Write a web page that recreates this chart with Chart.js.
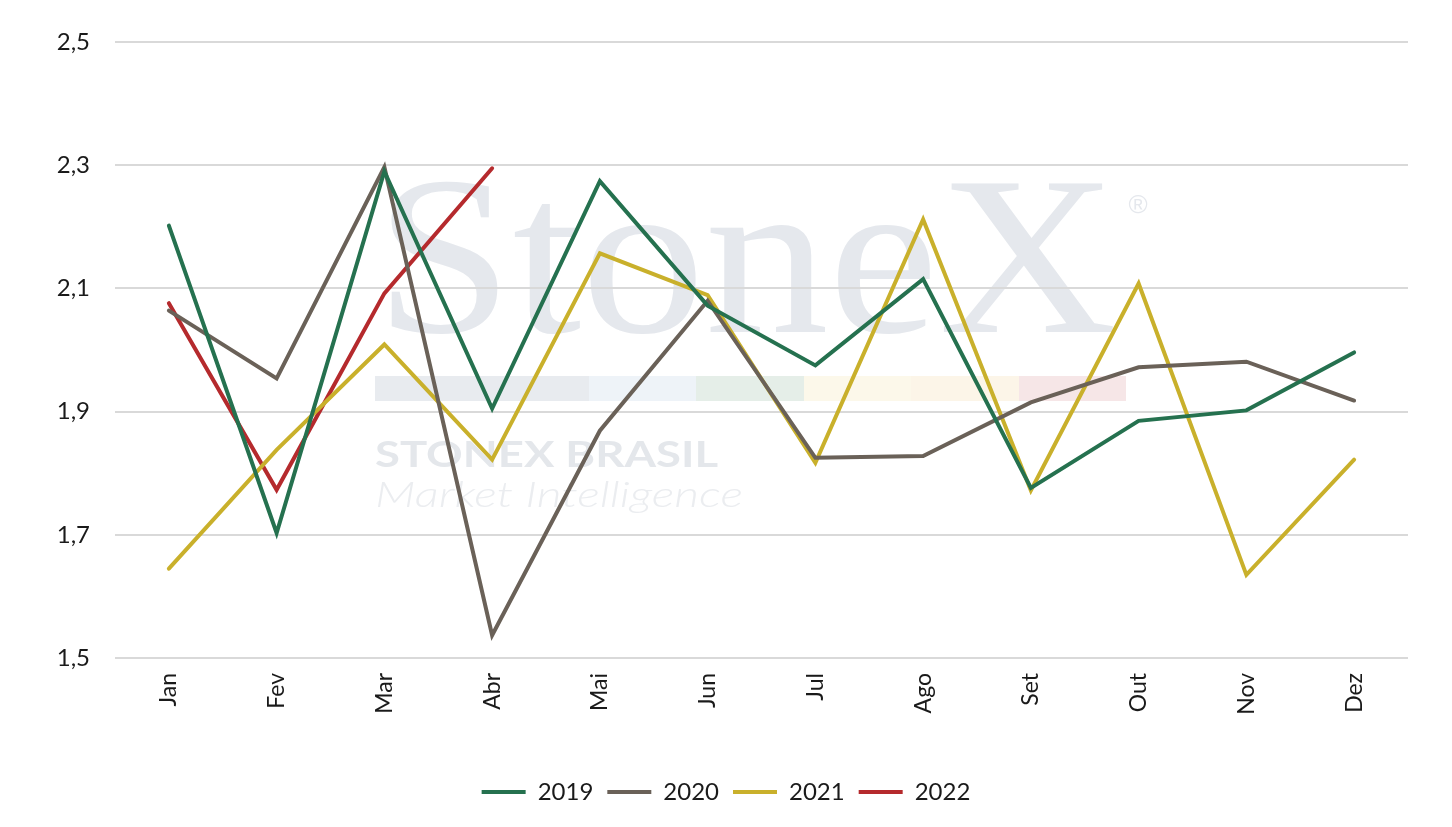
<!DOCTYPE html>
<html>
<head>
<meta charset="utf-8">
<script src="https://cdn.jsdelivr.net/npm/chart.js@4.4.1/dist/chart.umd.min.js"></script>
<style>
  html, body { margin: 0; padding: 0; background: #ffffff; }
  #wrap { width: 1452px; height: 827px; }
</style>
</head>
<body>
<div id="wrap"><canvas id="c" width="1452" height="827"></canvas></div>
<script>
const months = ['Jan', 'Fev', 'Mar', 'Abr', 'Mai', 'Jun', 'Jul', 'Ago', 'Set', 'Out', 'Nov', 'Dez'];
const series2019 = [2.202, 1.703, 2.290, 1.905, 2.274, 2.072, 1.975, 2.115, 1.776, 1.885, 1.902, 1.996];
const series2020 = [2.064, 1.954, 2.297, 1.537, 1.869, 2.080, 1.825, 1.828, 1.915, 1.972, 1.981, 1.918];
const series2021 = [1.645, 1.838, 2.009, 1.822, 2.157, 2.089, 1.817, 2.212, 1.772, 2.108, 1.635, 1.822];
const series2022 = [2.076, 1.773, 2.092, 2.295];
const yTicks = [1.5, 1.7, 1.9, 2.1, 2.3, 2.5];

const FONT = 'Lato';

const watermark = {
  id: 'watermark',
  beforeDraw(chart) {
    const ctx = chart.ctx;
    ctx.save();
    ctx.fillStyle = '#e5e8ed';
    ctx.font = '226px "Liberation Serif"';
    ctx.textBaseline = 'alphabetic';
    ctx.textAlign = 'left';
    const w = ctx.measureText('StoneX').width;
    ctx.translate(375, 332);
    ctx.scale(742 / w, 1);
    ctx.fillText('StoneX', 0, 0);
    ctx.restore();
    ctx.save();
    ctx.fillStyle = '#e5e8ed';
    ctx.font = '26px "Liberation Sans"';
    ctx.textAlign = 'center';
    ctx.textBaseline = 'middle';
    ctx.fillText('®', 1138, 206);
    const bands = ['#e8ebef', '#eef3f8', '#e5eee8', '#fcf8ea', '#fcf5e8', '#f6e6e7'];
    const bx = [375, 589, 696, 804, 911, 1019, 1126];
    for (let i = 0; i < bands.length; i++) {
      ctx.fillStyle = bands[i];
      ctx.fillRect(bx[i], 376, bx[i + 1] - bx[i], 25);
    }
    ctx.fillStyle = '#e4e7eb';
    ctx.font = 'bold 36px "Lato"';
    ctx.textAlign = 'left';
    ctx.textBaseline = 'alphabetic';
    const t1 = 'STONEX BRASIL';
    const w1 = ctx.measureText(t1).width;
    ctx.save();
    ctx.translate(375, 467);
    ctx.scale(343 / w1, 1);
    ctx.fillText(t1, 0, 0);
    ctx.restore();
    ctx.fillStyle = '#ebedf0';
    ctx.font = 'italic 300 36px "Lato"';
    const t2 = 'Market Intelligence';
    const w2 = ctx.measureText(t2).width;
    ctx.save();
    ctx.translate(375, 507);
    ctx.scale(368 / w2, 1);
    ctx.fillText(t2, 0, 0);
    ctx.restore();
    ctx.restore();
  }
};

function ds(label, data, color) {
  return {
    label, data,
    borderColor: color,
    backgroundColor: color,
    borderWidth: 4,
    borderCapStyle: 'round',
    borderJoinStyle: 'miter',
    pointRadius: 0,
    pointHoverRadius: 0,
    pointStyle: 'line',
    tension: 0,
    fill: false
  };
}

new Chart(document.getElementById('c'), {
  type: 'line',
  data: {
    labels: months,
    datasets: [
      ds('2019', series2019, '#25714f'),
      ds('2020', series2020, '#6a6158'),
      ds('2021', series2021, '#c9b02b'),
      ds('2022', series2022, '#b52a2d')
    ]
  },
  plugins: [watermark],
  options: {
    responsive: false,
    devicePixelRatio: 1,
    animation: false,
    layout: { padding: { top: 42, right: 0, left: 0, bottom: 13 } },
    plugins: {
      tooltip: { enabled: false },
      legend: {
        position: 'bottom',
        labels: {
          usePointStyle: true,
          pointStyle: 'line',
          pointStyleWidth: 44,
          boxHeight: 24,
          padding: 14,
          color: '#1a1a1a',
          font: { family: FONT, size: 24 }
        }
      }
    },
    scales: {
      x: {
        offset: true,
        grid: { display: false, drawTicks: false },
        border: { display: false },
        ticks: {
          minRotation: 90, maxRotation: 90,
          padding: 15,
          color: '#1a1a1a',
          font: { family: FONT, size: 23 }
        },
        afterFit(scale) { scale.height = 108; }
      },
      y: {
        min: 1.5, max: 2.5,
        afterBuildTicks(scale) { scale.ticks = yTicks.map(v => ({ value: v })); },
        grid: { color: '#d9d9d9', lineWidth: 2, drawTicks: false },
        border: { display: false },
        ticks: {
          padding: 25,
          color: '#1a1a1a',
          font: { family: FONT, size: 24 },
          callback: (v) => v.toFixed(1).replace('.', ',')
        },
        afterFit(scale) { scale.width = 115; }
      },
      spacer: {
        type: 'linear',
        position: 'right',
        display: true,
        grid: { display: false, drawTicks: false },
        border: { display: false },
        ticks: { display: false },
        afterFit(scale) { scale.width = 44; }
      }
    }
  }
});
</script>
</body>
</html>
